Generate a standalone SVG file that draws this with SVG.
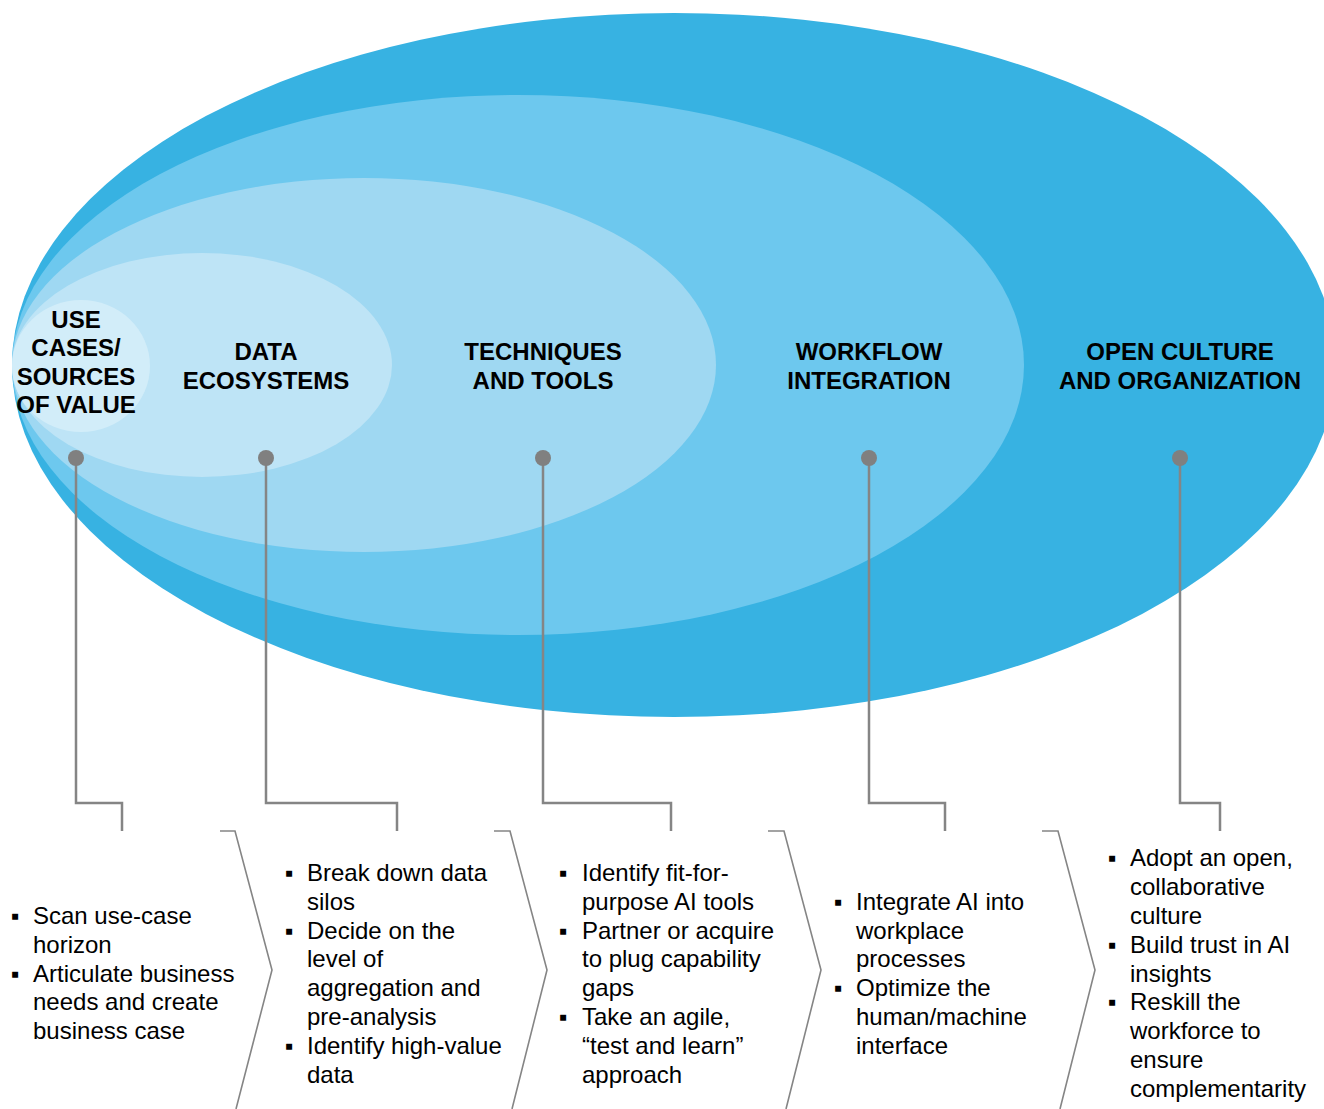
<svg xmlns="http://www.w3.org/2000/svg" width="1324" height="1109" viewBox="0 0 1324 1109">
<style>
.t{font-family:"Liberation Sans",Arial,sans-serif;font-size:24px;font-weight:bold;fill:#000;text-anchor:middle}
.b{font-family:"Liberation Sans",Arial,"DejaVu Sans",sans-serif;font-size:24px;fill:#000}
.c{fill:none;stroke:#858585;stroke-width:2.5}
.v{fill:none;stroke:#858585;stroke-width:1.6}
.d{fill:#808080}
</style>
<rect width="1324" height="1109" fill="#fff"/>
<g id="ellipses">
<ellipse id="e-open-culture" cx="674" cy="365" rx="662" ry="352" fill="#37B2E2"/>
<ellipse id="e-workflow" cx="518" cy="365" rx="506" ry="270" fill="#6DC8EE"/>
<ellipse id="e-techniques" cx="364" cy="365" rx="352" ry="187" fill="#9FD8F2"/>
<ellipse id="e-data" cx="202" cy="365" rx="190" ry="112" fill="#BEE4F6"/>
<ellipse id="e-use-cases" cx="81" cy="366" rx="69" ry="66" fill="#D2EDF9"/>
</g>
<g id="connectors">
<polyline class="c" points="76,458 76,803 122,803 122,831"/>
<polyline class="c" points="266,458 266,803 397,803 397,831"/>
<polyline class="c" points="543,458 543,803 671,803 671,831"/>
<polyline class="c" points="869,458 869,803 945,803 945,831"/>
<polyline class="c" points="1180,458 1180,803 1220,803 1220,831"/>
<polyline class="v" points="220,831 235,831 272,970 236,1109"/>
<polyline class="v" points="494,831 510,831 547,970 512,1109"/>
<polyline class="v" points="768,831 784,831 821,970 786,1109"/>
<polyline class="v" points="1042,831 1058,831 1095,970 1060,1109"/>
</g>
<g id="node-use-cases">
<text class="t" x="76" y="328">USE</text>
<text class="t" x="76" y="356">CASES/</text>
<text class="t" x="76" y="385">SOURCES</text>
<text class="t" x="76" y="413">OF VALUE</text>
<circle class="d" cx="76" cy="458" r="8"/>
<text class="b"><tspan x="11" y="924">▪</tspan><tspan x="33" y="924">Scan use-case</tspan><tspan x="33" y="952.8">horizon</tspan><tspan x="11" y="981.6">▪</tspan><tspan x="33" y="981.6">Articulate business</tspan><tspan x="33" y="1010.4">needs and create</tspan><tspan x="33" y="1039.2">business case</tspan></text>
</g>
<g id="node-data">
<text class="t" x="266" y="360">DATA</text>
<text class="t" x="266" y="389">ECOSYSTEMS</text>
<circle class="d" cx="266" cy="458" r="8"/>
<text class="b"><tspan x="285" y="881">▪</tspan><tspan x="307" y="881">Break down data</tspan><tspan x="307" y="909.8">silos</tspan><tspan x="285" y="938.6">▪</tspan><tspan x="307" y="938.6">Decide on the</tspan><tspan x="307" y="967.4">level of</tspan><tspan x="307" y="996.2">aggregation and</tspan><tspan x="307" y="1025">pre-analysis</tspan><tspan x="285" y="1053.8">▪</tspan><tspan x="307" y="1053.8">Identify high-value</tspan><tspan x="307" y="1082.6">data</tspan></text>
</g>
<g id="node-techniques">
<text class="t" x="543" y="360">TECHNIQUES</text>
<text class="t" x="543" y="389">AND TOOLS</text>
<circle class="d" cx="543" cy="458" r="8"/>
<text class="b"><tspan x="559" y="881">▪</tspan><tspan x="582" y="881">Identify fit-for-</tspan><tspan x="582" y="909.8">purpose AI tools</tspan><tspan x="559" y="938.6">▪</tspan><tspan x="582" y="938.6">Partner or acquire</tspan><tspan x="582" y="967.4">to plug capability</tspan><tspan x="582" y="996.2">gaps</tspan><tspan x="559" y="1025">▪</tspan><tspan x="582" y="1025">Take an agile,</tspan><tspan x="582" y="1053.8">“test and learn”</tspan><tspan x="582" y="1082.6">approach</tspan></text>
</g>
<g id="node-workflow">
<text class="t" x="869" y="360">WORKFLOW</text>
<text class="t" x="869" y="389">INTEGRATION</text>
<circle class="d" cx="869" cy="458" r="8"/>
<text class="b"><tspan x="834" y="909.8">▪</tspan><tspan x="856" y="909.8">Integrate AI into</tspan><tspan x="856" y="938.6">workplace</tspan><tspan x="856" y="967.4">processes</tspan><tspan x="834" y="996.2">▪</tspan><tspan x="856" y="996.2">Optimize the</tspan><tspan x="856" y="1025">human/machine</tspan><tspan x="856" y="1053.8">interface</tspan></text>
</g>
<g id="node-open-culture">
<text class="t" x="1180" y="360">OPEN CULTURE</text>
<text class="t" x="1180" y="389">AND ORGANIZATION</text>
<circle class="d" cx="1180" cy="458" r="8"/>
<text class="b"><tspan x="1108" y="866.4">▪</tspan><tspan x="1130" y="866.4">Adopt an open,</tspan><tspan x="1130" y="895.2">collaborative</tspan><tspan x="1130" y="924">culture</tspan><tspan x="1108" y="952.8">▪</tspan><tspan x="1130" y="952.8">Build trust in AI</tspan><tspan x="1130" y="981.6">insights</tspan><tspan x="1108" y="1010.4">▪</tspan><tspan x="1130" y="1010.4">Reskill the</tspan><tspan x="1130" y="1039.2">workforce to</tspan><tspan x="1130" y="1068">ensure</tspan><tspan x="1130" y="1096.8">complementarity</tspan></text>
</g>
</svg>
